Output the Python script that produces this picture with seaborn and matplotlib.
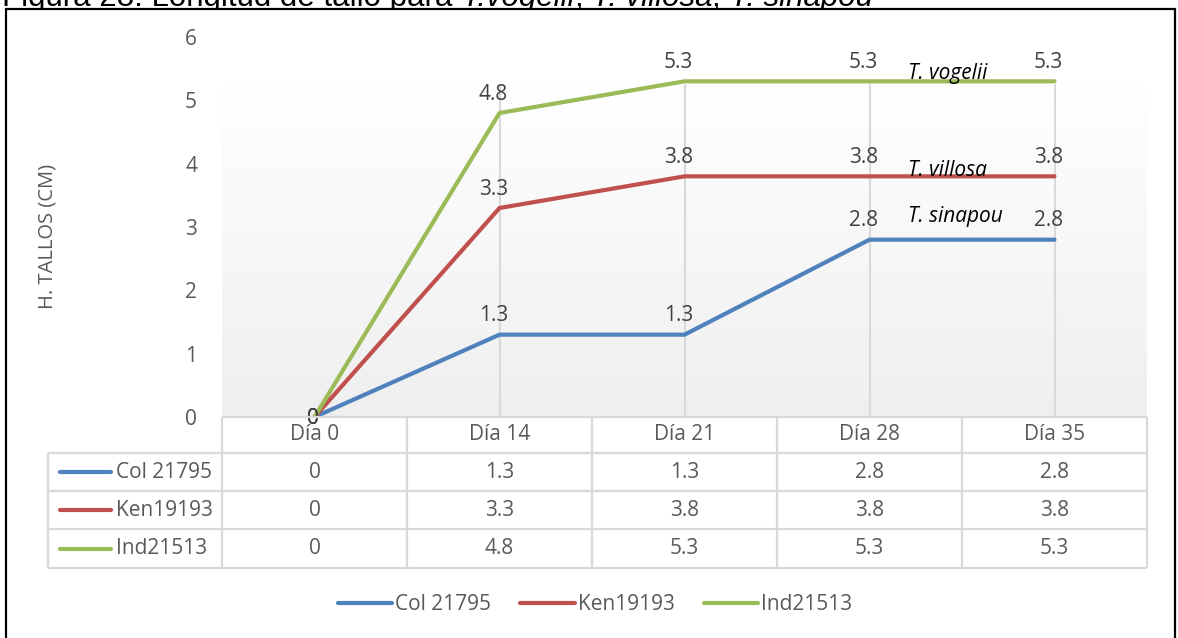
import numpy as np
import pandas as pd
import seaborn as sns
import matplotlib.pyplot as plt
from matplotlib import transforms
from matplotlib.colors import LinearSegmentedColormap
from matplotlib.lines import Line2D
from matplotlib.patches import Rectangle

dias = ["Día 0", "Día 14", "Día 21", "Día 28", "Día 35"]
accesiones = ["Col 21795", "Ken19193", "Ind21513"]
col_21795 = [0, 1.3, 1.3, 2.8, 2.8]
ken19193 = [0, 3.3, 3.8, 3.8, 3.8]
ind21513 = [0, 4.8, 5.3, 5.3, 5.3]
especies = ["T. sinapou", "T. villosa", "T. vogelii"]
especies_y = [3.16, 3.9, 5.43]
y_ticks = [0, 1, 2, 3, 4, 5, 6]

colores = ["#4f81bd", "#c0504d", "#9bbb59"]
TXT = "#595959"
GRID = "#d9d9d9"
W, H = 1178, 638


def px(x):
    return x / W


def py(y):
    return 1 - y / H


sns.set_style("white")
plt.rcParams["font.family"] = ["Open Sans", "DejaVu Sans"]

valores = [col_21795, ken19193, ind21513]
df = pd.DataFrame(
    [
        {"dia": i, "valor": v, "accesion": acc}
        for acc, serie in zip(accesiones, valores)
        for i, v in enumerate(serie)
    ]
)

fig = plt.figure(figsize=(W / 100, H / 100), dpi=100)
ax = fig.add_axes([px(222), py(417), px(1147) - px(222), py(37) - py(417)])

# gradient plot area + vertical gridlines
grad = LinearSegmentedColormap.from_list("g", ["#efefef", "#ffffff"])
ax.imshow(
    np.linspace(0, 1, 256).reshape(-1, 1),
    extent=(-0.5, len(dias) - 0.5, 0, 5.25),
    origin="lower",
    aspect="auto",
    cmap=grad,
    zorder=0,
)
for i in range(1, len(dias)):
    ax.plot([i, i], [0, 5.25], color=GRID, lw=1.5, zorder=1)

sns.lineplot(
    data=df,
    x="dia",
    y="valor",
    hue="accesion",
    hue_order=accesiones,
    palette=colores,
    linewidth=3,
    legend=False,
    ax=ax,
    zorder=3,
)

# data labels
for serie in valores:
    for i, v in enumerate(serie):
        if v == 0:
            ax.annotate("0", (i, v), xytext=(-2, -1), textcoords="offset pixels",
                        ha="center", va="center", fontsize=15, color="#404040", zorder=4)
        else:
            ax.annotate(f"{v:.1f}", (i, v), xytext=(-6, 19), textcoords="offset pixels",
                        ha="center", va="center", fontsize=15, color="#404040", zorder=4)

for name, yv in zip(especies, especies_y):
    ax.text(3.21, yv, name, fontstyle="italic", fontsize=15, color="black",
            ha="left", va="center", zorder=5)

ax.set_xlim(-0.5, len(dias) - 0.5)
ax.set_ylim(0, 6)
ax.set_xticks([])
ax.set_yticks(y_ticks)
ax.set_yticklabels([str(t) for t in y_ticks], fontsize=15, color=TXT)
ax.tick_params(axis="y", length=0, pad=18)
ax.set_xlabel("")
ax.set_ylabel("")
for s in ax.spines.values():
    s.set_visible(False)
ax.patch.set_alpha(0)

fig.text(px(48), py(236), "H. TALLOS (CM)", rotation=90, ha="center", va="center",
         fontsize=14.5, color=TXT)

# data table under the axis
bt = transforms.blended_transform_factory(ax.transData, fig.transFigure)
n = len(dias)
rows_y = [417, 453, 491, 529, 568]
lkw = dict(color=GRID, lw=1.6, clip_on=False, solid_capstyle="butt")
fig.add_artist(Line2D([-0.5, n - 0.5], [py(417)] * 2, transform=bt, **lkw))
for yy in rows_y[1:]:
    fig.add_artist(Line2D([px(48), px(1147)], [py(yy)] * 2, transform=fig.transFigure, **lkw))
for k in range(n + 1):
    fig.add_artist(Line2D([k - 0.5, k - 0.5], [py(417), py(568)], transform=bt, **lkw))
fig.add_artist(Line2D([px(48), px(48)], [py(453), py(568)], transform=fig.transFigure, **lkw))

for i, d in enumerate(dias):
    fig.text(i, py((rows_y[0] + rows_y[1]) / 2), d, transform=bt, ha="center", va="center",
             fontsize=15, color=TXT)
for r, (acc, serie, c) in enumerate(zip(accesiones, valores, colores)):
    yc = py((rows_y[r + 1] + rows_y[r + 2]) / 2)
    fig.add_artist(Line2D([px(60), px(111)], [yc, yc], transform=fig.transFigure,
                          color=c, lw=3, solid_capstyle="round"))
    fig.text(px(116), yc, acc, ha="left", va="center", fontsize=15, color=TXT)
    for i, v in enumerate(serie):
        fig.text(i, yc, f"{v:g}", transform=bt, ha="center", va="center",
                 fontsize=15, color=TXT)

# bottom legend
handles = [Line2D([], [], color=c, lw=3, solid_capstyle="round") for c in colores]
leg = fig.legend(handles, accesiones, loc="center", bbox_to_anchor=(px(595), py(605)),
                 ncol=3, frameon=False, fontsize=15, handlelength=2.6,
                 handletextpad=0.15, columnspacing=1.4, labelcolor=TXT)

# title, clipped at the top of the image and partly hidden behind the chart box
segs = [
    ("Figura 28: Longitud de tallo para ", "normal"),
    ("T.vogelii", "italic"),
    (", ", "normal"),
    ("T. villosa", "italic"),
    (", ", "normal"),
    ("T. sinapou", "italic"),
]
renderer = fig.canvas.get_renderer()
x = px(2)
for txt, style in segs:
    t = fig.text(x, py(6), txt, fontstyle=style, va="baseline", ha="left",
                 fontsize=22.5, color="black", family=["Liberation Sans", "DejaVu Sans"],
                 zorder=1)
    bb = t.get_window_extent(renderer)
    x = bb.x1 / W

# white chart box covering the title's descenders, then the outer frame
fig.add_artist(Rectangle((px(6), py(24)), px(1175) - px(6), py(9) - py(24),
                         transform=fig.transFigure, facecolor="white", edgecolor="none",
                         zorder=2))
fig.add_artist(Rectangle((px(6), py(660)), px(1175) - px(6), py(9) - py(660),
                         transform=fig.transFigure, fill=False, edgecolor="black",
                         lw=1.6, clip_on=False, zorder=3))

fig.savefig("out.png", dpi=100)
